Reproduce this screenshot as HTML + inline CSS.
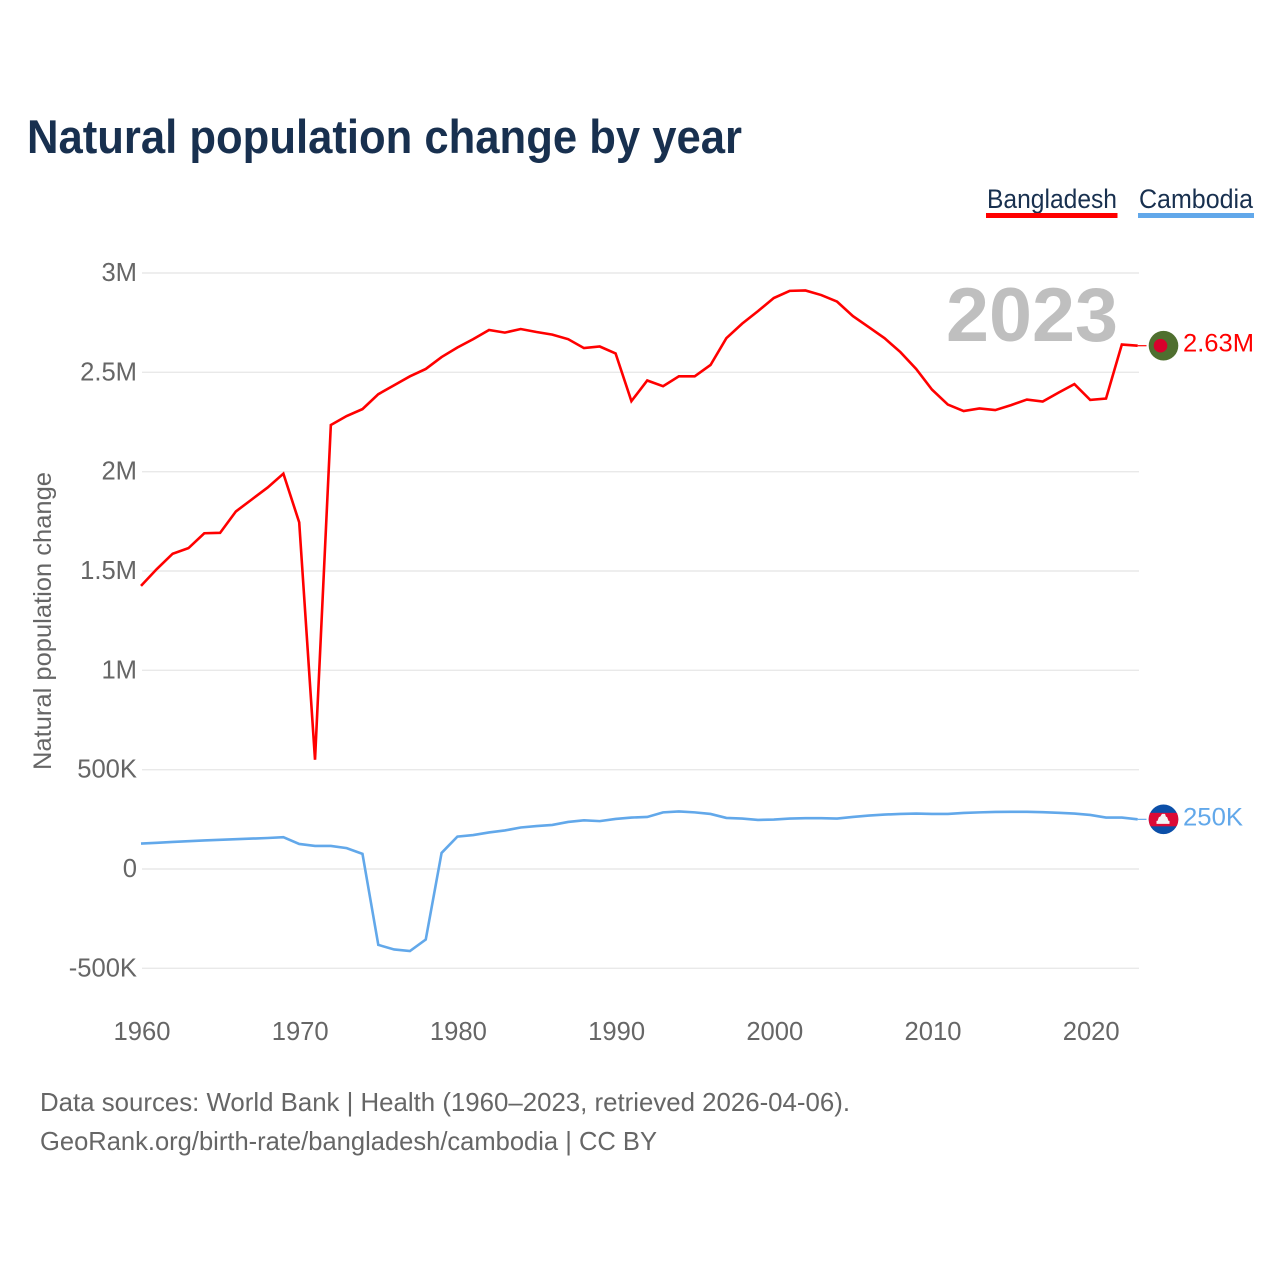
<!DOCTYPE html>
<html lang="en">
<head>
<meta charset="utf-8">
<title>Natural population change by year</title>
<style>
html,body{margin:0;padding:0;background:#fff;width:1280px;height:1280px;overflow:hidden}
svg{display:block}
text{font-family:"Liberation Sans",Arial,sans-serif}
</style>
</head>
<body>
<svg id="chart" xmlns="http://www.w3.org/2000/svg" width="1280" height="1280" viewBox="0 0 1280 1280">
  <defs>
    <clipPath id="clip-bd"><circle id="clip-bd-c" r="14.8"></circle></clipPath>
    <clipPath id="clip-kh"><circle id="clip-kh-c" r="14.8"></circle></clipPath>
  </defs>
  <rect width="1280" height="1280" fill="#fff"></rect>
  <text x="27" y="153" font-size="47" font-weight="700" fill="#18304f" textLength="715" lengthAdjust="spacingAndGlyphs">Natural population change by year</text>

  <g>
    <text x="987" y="208" font-size="27" fill="#18304f" textLength="130" lengthAdjust="spacingAndGlyphs">Bangladesh</text>
    <rect x="986" y="213" width="131.500" height="5" fill="#ff0000"></rect>
  </g>
  <g>
    <text x="1139" y="208" font-size="27" fill="#18304f" textLength="114" lengthAdjust="spacingAndGlyphs">Cambodia</text>
    <rect x="1138" y="213" width="116" height="5" fill="#62a8ea"></rect>
  </g>

  <g id="grid"></g>
  <g id="y-ticks"></g>
  <g id="x-ticks"></g>

  <text transform="translate(51,621) rotate(-90)" text-anchor="middle" font-size="25" fill="#666" textLength="298" lengthAdjust="spacingAndGlyphs">Natural population change</text>
  <text x="946" y="341" font-size="76" font-weight="700" fill="#bfbfbf" textLength="172" lengthAdjust="spacingAndGlyphs">2023</text>

  <g id="series"></g>
  <g id="ends"></g>

  <text x="40" y="1111" font-size="26" fill="#666" textLength="810" lengthAdjust="spacingAndGlyphs">Data sources: World Bank | Health (1960–2023, retrieved 2026-04-06).</text>
  <text x="40" y="1150" font-size="26" fill="#666" textLength="617" lengthAdjust="spacingAndGlyphs">GeoRank.org/birth-rate/bangladesh/cambodia | CC BY</text>
</svg>

<script>
const startYear = 1960;
const xTickYears = [1960, 1970, 1980, 1990, 2000, 2010, 2020];
const yTickValues = [-500000, 0, 500000, 1000000, 1500000, 2000000, 2500000, 3000000];
const yTickLabels = ['-500K', '0', '500K', '1M', '1.5M', '2M', '2.5M', '3M'];

const bangladeshValues = [
  1425000, 1510000, 1587000, 1615000, 1690000, 1692000, 1800000, 1860000, 1920000, 1990000,
  1745000, 550000, 2235000, 2280000, 2315000, 2390000, 2435000, 2480000, 2517000, 2577000,
  2625000, 2667000, 2713000, 2700000, 2718000, 2703000, 2690000, 2667000, 2622000, 2630000,
  2595000, 2355000, 2459000, 2430000, 2480000, 2480000, 2537000, 2672000, 2745000, 2808000,
  2874000, 2910000, 2912000, 2889000, 2856000, 2783000, 2728000, 2672000, 2602000, 2517000,
  2413000, 2338000, 2305000, 2318000, 2310000, 2335000, 2363000, 2353000, 2398000, 2441000,
  2361000, 2368000, 2640000, 2634000
];
const cambodiaValues = [
  128000, 132000, 136000, 140000, 144000, 147000, 150000, 153000, 156000, 160000,
  126000, 116000, 116000, 105000, 76000, -382000, -405000, -413000, -355000, 81000,
  163000, 171000, 184000, 194000, 209000, 216000, 222000, 237000, 245000, 241000,
  252000, 259000, 262000, 285000, 290000, 285000, 277000, 257000, 254000, 247000,
  249000, 254000, 256000, 256000, 254000, 262000, 269000, 274000, 277000, 279000,
  277000, 277000, 282000, 285000, 287000, 288000, 288000, 286000, 283000, 279000,
  272000, 259000, 259000, 250000
];
const bangladeshEndLabel = '2.63M';
const cambodiaEndLabel = '250K';

const SVG_NS = 'http://www.w3.org/2000/svg';
const plotLeft = 142;
const plotRight = 1139;
const flagX = 1163.5;

function xScale(year) {
  return 141 + (year - 1960) * 15.82;
}
function yScale(value) {
  return 869 - value * (869 - 273) / 3000000;
}
function make(tag, attrs, parent) {
  const el = document.createElementNS(SVG_NS, tag);
  Object.keys(attrs).forEach(function (k) { el.setAttribute(k, attrs[k]); });
  parent.appendChild(el);
  return el;
}

const grid = document.getElementById('grid');
const yTicks = document.getElementById('y-ticks');
const xTicks = document.getElementById('x-ticks');
const series = document.getElementById('series');
const ends = document.getElementById('ends');

yTickValues.forEach(function (v, i) {
  const line = make('line', {x1: plotLeft, x2: plotRight, y1: yScale(v), y2: yScale(v), stroke: '#e9e9e9', 'stroke-width': 1.4}, grid);
  
  
  const label = make('text', {x: 137, y: yScale(v) + 8, 'text-anchor': 'end', 'font-size': 25.6, fill: '#666'}, yTicks);
  label.textContent = yTickLabels[i];
  
  
});

xTickYears.forEach(function (yr) {
  const label = make('text', {x: xScale(yr) + 1, y: 1040, 'text-anchor': 'middle', 'font-size': 25.6, fill: '#666'}, xTicks);
  label.textContent = String(yr);
  
  
});

function drawLine(values, color, name) {
  const pts = values.map(function (v, i) {
    return xScale(startYear + i).toFixed(2) + ',' + yScale(v).toFixed(2);
  });
  const path = make('polyline', {points: pts.join(' '), fill: 'none', stroke: color, 'stroke-width': 2.6, 'stroke-linejoin': 'miter'}, series);
  
  
  const lastY = yScale(values[values.length - 1]);
  const connector = make('line', {x1: xScale(startYear + values.length - 1), x2: flagX - 17, y1: lastY, y2: lastY, stroke: color, 'stroke-width': 1.2}, series);
  
  
}
drawLine(cambodiaValues, '#62a8ea', 'line-cambodia');
drawLine(bangladeshValues, '#ff0000', 'line-bangladesh');

const bdY = yScale(bangladeshValues[bangladeshValues.length - 1]);
const khY = yScale(cambodiaValues[cambodiaValues.length - 1]);
document.getElementById('clip-bd-c').setAttribute('cx', flagX);
document.getElementById('clip-bd-c').setAttribute('cy', bdY);
document.getElementById('clip-kh-c').setAttribute('cx', flagX);
document.getElementById('clip-kh-c').setAttribute('cy', khY);

const bdFlag = make('g', {'clip-path': 'url(#clip-bd)'}, ends);


make('rect', {x: flagX - 16, y: bdY - 16, width: 32, height: 32, fill: '#4f6f2f'}, bdFlag);
make('circle', {cx: flagX - 3, cy: bdY, r: 6.8, fill: '#d8012c'}, bdFlag);

const khFlag = make('g', {'clip-path': 'url(#clip-kh)'}, ends);


make('rect', {x: flagX - 16, y: khY - 16, width: 32, height: 32, fill: '#0b4fa8'}, khFlag);
make('rect', {x: flagX - 16, y: khY - 6.5, width: 32, height: 13.5, fill: '#dc0a36'}, khFlag);
make('path', {d: 'M' + (flagX - 1.5) + ' ' + (khY - 5.5) + 'h3l1 3h1l1.500 4h1v3h-13v-3h1l1.500-4h1z', fill: '#f4f4f4'}, khFlag);

const bdLabel = make('text', {x: 1183, y: bdY + 6, 'font-size': 25, fill: '#ff0000', textLength: 71, lengthAdjust: 'spacingAndGlyphs'}, ends);
bdLabel.textContent = bangladeshEndLabel;



const khLabel = make('text', {x: 1183, y: khY + 6, 'font-size': 25, fill: '#62a8ea', textLength: 60, lengthAdjust: 'spacingAndGlyphs'}, ends);
khLabel.textContent = cambodiaEndLabel;


</script>
</body>
</html>
